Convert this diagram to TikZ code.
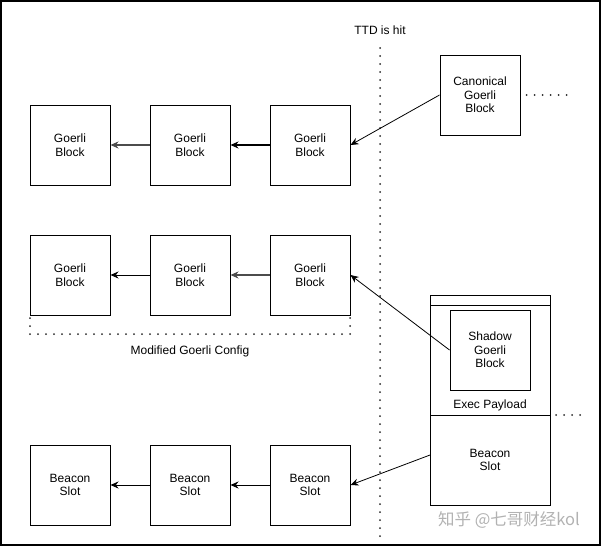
\documentclass[tikz,border=0pt]{standalone}
\usepackage{fontspec}
\setmainfont{Liberation Sans}
\newfontfamily\cjkfont{Noto Sans CJK SC}
\usetikzlibrary{arrows.meta}
\begin{document}
\begin{tikzpicture}[x=1pt,y=-1pt,
  font=\fontsize{12}{13.5}\selectfont,
  box/.style={draw,line width=1pt,minimum width=80pt,minimum height=80pt,inner sep=0pt,align=center},
  arr/.style={draw,line width=0.8pt,-{Stealth[length=8pt,width=7pt]}},
  thickarr/.style={arr,line width=1.4pt},
  dotline/.style={line width=2pt,dash pattern=on 0pt off 8pt,line cap=round,black!85},
  lbl/.style={inner sep=0pt,align=center}]
\useasboundingbox (0,0) rectangle (601,546);
\draw[line width=1.5pt] (1,1) rectangle (600,545);

% TTD line
\node[lbl] (ttd) at (380,30) {TTD is hit};
\coordinate (ttdtop) at (380,48);
\coordinate (ttdbot) at (380,538);
\draw[dotline] (ttdtop) -- (ttdbot);

% Row 1
\node[box] (r1a) at (70,145) {Goerli\\Block};
\node[box] (r1b) at (190,145) {Goerli\\Block};
\node[box] (r1c) at (310,145) {Goerli\\Block};
\draw[thickarr,black!70] (r1b) -- (r1a);
\draw[thickarr] (r1c) -- (r1b);

% Canonical
\node[box] (canon) at (480,95) {Canonical\\Goerli\\Block};
\coordinate (canonend) at (572,95);
\draw[dotline] ([xshift=6pt]canon.east) -- (canonend);
\draw[arr] (canon.west) -- (r1c.east);

% Row 2
\node[box] (r2a) at (70,275) {Goerli\\Block};
\node[box] (r2b) at (190,275) {Goerli\\Block};
\node[box] (r2c) at (310,275) {Goerli\\Block};
\draw[arr] (r2b) -- (r2a);
\draw[thickarr,black!70] (r2c) -- (r2b);
\coordinate (brtl) at (30,318);
\coordinate (brbl) at (30,334);
\coordinate (brbr) at (350,334);
\coordinate (brtr) at (350,318);
\draw[dotline] (brtl) -- (brbl) -- (brbr) -- (brtr);
\node[lbl] (modcfg) at (190,351) {Modified Goerli Config};

% Exec payload / beacon
\node[draw,line width=1pt,minimum width=120pt,minimum height=210pt,inner sep=0pt] (exec) at (490,400) {};
\coordinate (stripl) at (430,305);
\coordinate (stripr) at (550,305);
\draw[line width=1pt] (stripl) -- (stripr);
\node[box] (shadow) at (490,350) {Shadow\\Goerli\\Block};
\node[lbl] (execlbl) at (490,405) {Exec Payload};
\coordinate (divl) at (430,415);
\coordinate (divr) at (550,415);
\draw[line width=1pt] (divl) -- (divr);
\coordinate (divend) at (586,415);
\draw[dotline] ([xshift=6pt]divr) -- (divend);
\node[lbl] (beaconlbl) at (490,460) {Beacon\\Slot};
\draw[arr] (shadow.west) -- (r2c.east);

% Row 3
\node[box] (r3a) at (70,485) {Beacon\\Slot};
\node[box] (r3b) at (190,485) {Beacon\\Slot};
\node[box] (r3c) at (310,485) {Beacon\\Slot};
\draw[arr] (r3b) -- (r3a);
\draw[arr] (r3c) -- (r3b);
\coordinate (execout) at (430,455);
\draw[arr] (execout) -- (r3c.east);

% watermark
\node[lbl,text=black!30,font=\cjkfont\fontsize{16.5}{18}\selectfont] (wm) at (509,520) {知乎 @七哥财经kol};
\end{tikzpicture}
\end{document}
